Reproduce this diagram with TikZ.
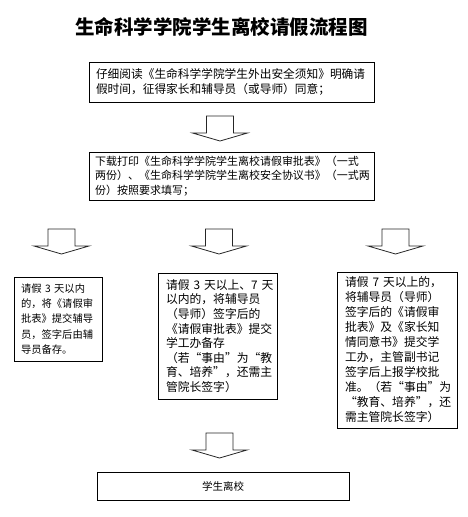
\documentclass[tikz,border=0pt]{standalone}
\usepackage{fontspec}
\newfontfamily\cjk{Noto Sans CJK SC}
\newcommand{\txtsize}[2]{\cjk\fontsize{#1}{#2}\selectfont}

\tikzset{
  stepbox/.style={draw, line width=0.8pt, inner ysep=0pt, align=left},
  arrowline/.style={draw=black!85, line width=0.8pt, line join=miter},
  blockarrow/.pic={
    \path[arrowline] (-13.5,0) -- (-13.5,17) -- (-27.5,17) -- (0,25)
      -- (27.5,17) -- (13.5,17) -- (13.5,0) -- cycle;
  }
}

\begin{document}
\begin{tikzpicture}[x=1pt, y=-1pt]
  \useasboundingbox (0,0) rectangle (468,517);
  \node (title) at (221.5,27) {\txtsize{19.5}{24}\bfseries 生命科学学院学生离校请假流程图};

  \node[stepbox, minimum width=285pt, minimum height=40pt, inner xsep=7pt, text width=271pt,
    font=\txtsize{11.7}{15}] (read) at (231.5,82)
    {仔细阅读《生命科学学院学生外出安全须知》明确请\\假时间，征得家长和辅导员（或导师）同意；};
  \pic (a1) at (220,116) {blockarrow};

  \node[stepbox, minimum width=285pt, minimum height=48pt, inner xsep=6pt, text width=273pt,
    font=\txtsize{11}{14.5}] (print) at (231.5,176)
    {下载打印《生命科学学院学生离校请假审批表》（一式\\两份）、《生命科学学院学生离校安全协议书》（一式两\\份）按照要求填写；};

  \pic (a2) at (61.5,229) {blockarrow};
  \pic (a3) at (219,229) {blockarrow};
  \pic (a4) at (395.5,229) {blockarrow};

  \node[stepbox, minimum width=88pt, minimum height=84pt, inner xsep=7pt, text width=74pt,
    font=\txtsize{10.3}{15.4}] (short) at (58,319)
    {请假~3~天以内\\的，将《请假审\\批表》提交辅导\\员，签字后由辅\\导员备存。};

  \node[stepbox, minimum width=119pt, minimum height=126pt, inner xsep=8pt, text width=103pt,
    font=\txtsize{11.8}{14.6}] (mid) at (217.5,336)
    {请假~3~天以上、7~天\\以内的，将辅导员\\（导师）签字后的\\《请假审批表》提交\\学工办备存\\（若“事由”为“教\\育、培养”，还需主\\管院长签字）};

  \node[stepbox, minimum width=120pt, minimum height=156pt, inner xsep=8pt, text width=104pt,
    font=\txtsize{11.8}{15}] (long) at (397,350)
    {请假~7~天以上的，\\将辅导员（导师）\\签字后的《请假审\\批表》及《家长知\\情同意书》提交学\\工办，主管副书记\\签字后上报学校批\\准。（若“事由”为\\“教育、培养”，还\\需主管院长签字）};

  \pic (a5) at (219.5,433) {blockarrow};

  \node[stepbox, minimum width=252pt, minimum height=28pt, align=center,
    font=\txtsize{10.5}{13}] (leave) at (223,486) {学生离校};
\end{tikzpicture}
\end{document}
